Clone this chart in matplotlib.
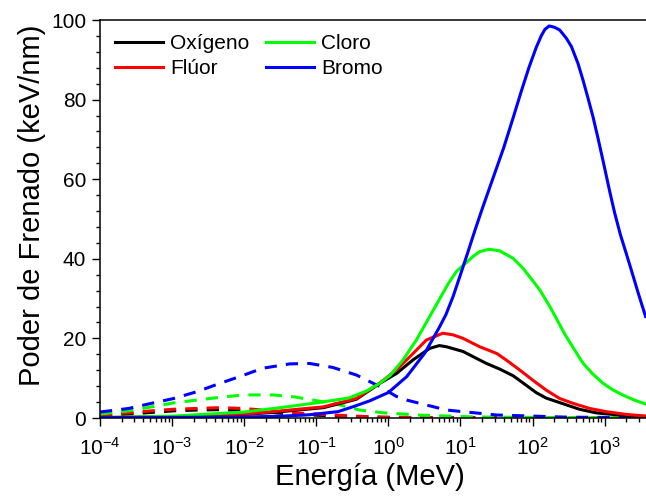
import numpy as np
import matplotlib
matplotlib.use("Agg")
import matplotlib.pyplot as plt
from matplotlib.ticker import MultipleLocator, LogLocator, NullFormatter

plt.rcParams['font.family'] = ['Liberation Sans', 'DejaVu Sans']
plt.rcParams['mathtext.fontset'] = 'custom'
plt.rcParams['mathtext.rm'] = 'Liberation Sans'
plt.rcParams['mathtext.it'] = 'Liberation Sans:italic'
plt.rcParams['mathtext.bf'] = 'Liberation Sans:bold'

# Stopping power curves, energy in MeV, stopping power in keV/nm
# solid lines: electronic stopping
e_oxigeno = [1e-4, 1e-3, 0.01, 0.025, 0.126, 0.36, 0.76, 1.3, 2.2, 3.75, 5.1, 6.4, 10.9, 16.6, 23, 35, 54, 74,
             112, 155, 295, 447, 760, 1300, 3700]
s_oxigeno = [0.1, 0.3, 0.9, 1.4, 2.6, 4.7, 8.7, 11.2, 14.6, 17.5, 18.2, 17.9, 16.7, 15.0, 13.7, 12.3, 10.6, 8.8,
             6.4, 5.0, 3.3, 2.2, 1.3, 0.9, 0.3]

e_fluor = [1e-4, 1e-3, 0.01, 0.025, 0.126, 0.36, 0.76, 1.3, 2.2, 3.37, 5.7, 7.9, 10.9, 18.5, 32, 43, 66, 101,
           155, 238, 363, 620, 1050, 2000, 3700]
s_fluor = [0.1, 0.3, 1.0, 1.6, 2.8, 4.9, 8.8, 12.1, 16.2, 19.6, 21.3, 20.9, 20.0, 17.9, 16.2, 14.6, 12.1, 9.5,
           7.0, 4.9, 3.7, 2.4, 1.6, 0.9, 0.5]

e_cloro = [1e-4, 1e-3, 0.01, 0.032, 0.1, 0.28, 0.5, 0.76, 1.07, 1.6, 2.45, 3.75, 6.8, 8.8, 11, 14.8, 18.5, 25,
           35, 54, 74, 91, 126, 174, 282, 363, 500, 690, 955, 1320, 1780, 2510, 3700]
s_cloro = [0.1, 0.45, 1.5, 2.6, 3.8, 5.0, 6.8, 8.7, 10.8, 14.6, 19.6, 25.5, 33.8, 36.8, 38.4, 40.5, 41.8, 42.4,
           42.0, 40.1, 37.6, 35.5, 32.2, 28.0, 21.0, 17.8, 13.8, 11.0, 8.7, 7.0, 5.8, 4.6, 3.5]

e_bromo = [1e-4, 1e-3, 0.01, 0.032, 0.079, 0.2, 0.32, 0.55, 1, 1.8, 3.2, 5.0, 6.3, 7.9, 10, 12.6, 15.8, 20, 25,
           32, 40, 54, 71, 89, 112, 132, 148, 170, 200, 238, 295, 347, 427, 500, 590, 690, 810, 955, 1175,
           1380, 1660, 2000, 2400, 2880, 3700]
s_bromo = [0.1, 0.15, 0.25, 0.45, 0.8, 1.6, 2.8, 4.3, 6.4, 10.4, 16.3, 22.5, 26, 30.5, 36, 41.5, 47, 52.5, 57.5,
           63, 68, 75.5, 82.5, 88, 93, 96, 97.6, 98.5, 98.2, 97.5, 95.4, 93.3, 89.1, 85, 80.3, 75.7, 70.3,
           64.5, 57, 51.5, 46, 41.3, 36.6, 31.8, 25.5]

# dashed lines: nuclear stopping
en_oxigeno = [1e-4, 2.5e-4, 5.2e-4, 1.05e-3, 2.2e-3, 4.6e-3, 9.8e-3, 0.018, 0.043, 0.1, 0.32, 1, 10, 3700]
sn_oxigeno = [0.5, 1.0, 1.4, 1.8, 2.0, 2.1, 1.9, 1.6, 1.0, 0.7, 0.35, 0.15, 0.05, 0.02]

en_fluor = [1e-4, 2.5e-4, 5.2e-4, 1.05e-3, 2.2e-3, 4.6e-3, 9.8e-3, 0.018, 0.043, 0.1, 0.32, 0.85, 10, 3700]
sn_fluor = [0.75, 1.3, 1.8, 2.2, 2.4, 2.6, 2.4, 2.0, 1.3, 1.0, 0.5, 0.2, 0.05, 0.02]

en_cloro = [1e-4, 2.5e-4, 5.2e-4, 1.05e-3, 2.2e-3, 4.6e-3, 9.8e-3, 0.025, 0.05, 0.091, 0.21, 0.4, 0.85, 2.9,
            16, 316, 3700]
sn_cloro = [1.0, 1.8, 2.8, 3.8, 4.5, 5.2, 5.8, 5.8, 5.3, 4.5, 3.3, 2.0, 1.3, 0.7, 0.25, 0.1, 0.05]

en_bromo = [1e-4, 2.5e-4, 5.2e-4, 1.05e-3, 2.2e-3, 4.6e-3, 9.3e-3, 0.018, 0.043, 0.081, 0.17, 0.36, 0.76, 1.3,
            1.8, 6.4, 32, 316, 3700]
sn_bromo = [1.5, 2.4, 3.7, 4.9, 6.6, 8.7, 10.6, 12.5, 13.6, 13.7, 12.7, 10.8, 7.9, 5.4, 4.5, 2.0, 0.75, 0.2, 0.1]

nombres = ['Oxígeno', 'Flúor', 'Cloro', 'Bromo']
colores = ['#000000', '#ff0000', '#00ff00', '#0000ff']
electronico = [(e_oxigeno, s_oxigeno), (e_fluor, s_fluor), (e_cloro, s_cloro), (e_bromo, s_bromo)]
nuclear = [(en_oxigeno, sn_oxigeno), (en_fluor, sn_fluor), (en_cloro, sn_cloro), (en_bromo, sn_bromo)]

fig = plt.figure(figsize=(6.46, 4.99), dpi=100)
ax = fig.add_axes([100 / 646, 81 / 499, 548 / 646, 398 / 499])

for (e, s), c in zip(nuclear, colores):
    ax.plot(e, s, color=c, lw=2.2, dashes=(4, 3))
for (e, s), c, n in zip(electronico, colores, nombres):
    ax.plot(e, s, color=c, lw=2.2, label=n)

ax.set_xscale('log')
ax.set_xlim(1e-4, 4000)
ax.set_ylim(0, 100)
ax.yaxis.set_major_locator(MultipleLocator(20))
ax.yaxis.set_minor_locator(MultipleLocator(4))
ax.xaxis.set_major_locator(LogLocator(base=10, numticks=20))
ax.xaxis.set_minor_locator(LogLocator(base=10, subs=np.arange(2, 10), numticks=20))
ax.xaxis.set_minor_formatter(NullFormatter())

for sp in ax.spines.values():
    sp.set_linewidth(1.1)
ax.tick_params(which='both', direction='out', width=1.0, labelsize=15, top=False, right=False)
ax.tick_params(which='major', length=6, pad=4)
ax.tick_params(which='minor', length=3)
ax.tick_params(axis='x', which='major', pad=7.5)

ax.set_xlabel('Energía (MeV)', fontsize=21)
ax.set_ylabel('Poder de Frenado (keV/nm)', fontsize=21)
ax.xaxis.set_label_coords(0.4927, -0.113)
ax.yaxis.set_label_coords(-0.098, 0.535)

ax.legend(loc='upper left', bbox_to_anchor=(15 / 548, 1 - 14 / 398), ncol=2, frameon=False,
          fontsize=15, handlelength=2.3, handletextpad=0.35, columnspacing=0.8,
          labelspacing=0.3, borderpad=0, borderaxespad=0)

fig.savefig('out.png', dpi=100)
